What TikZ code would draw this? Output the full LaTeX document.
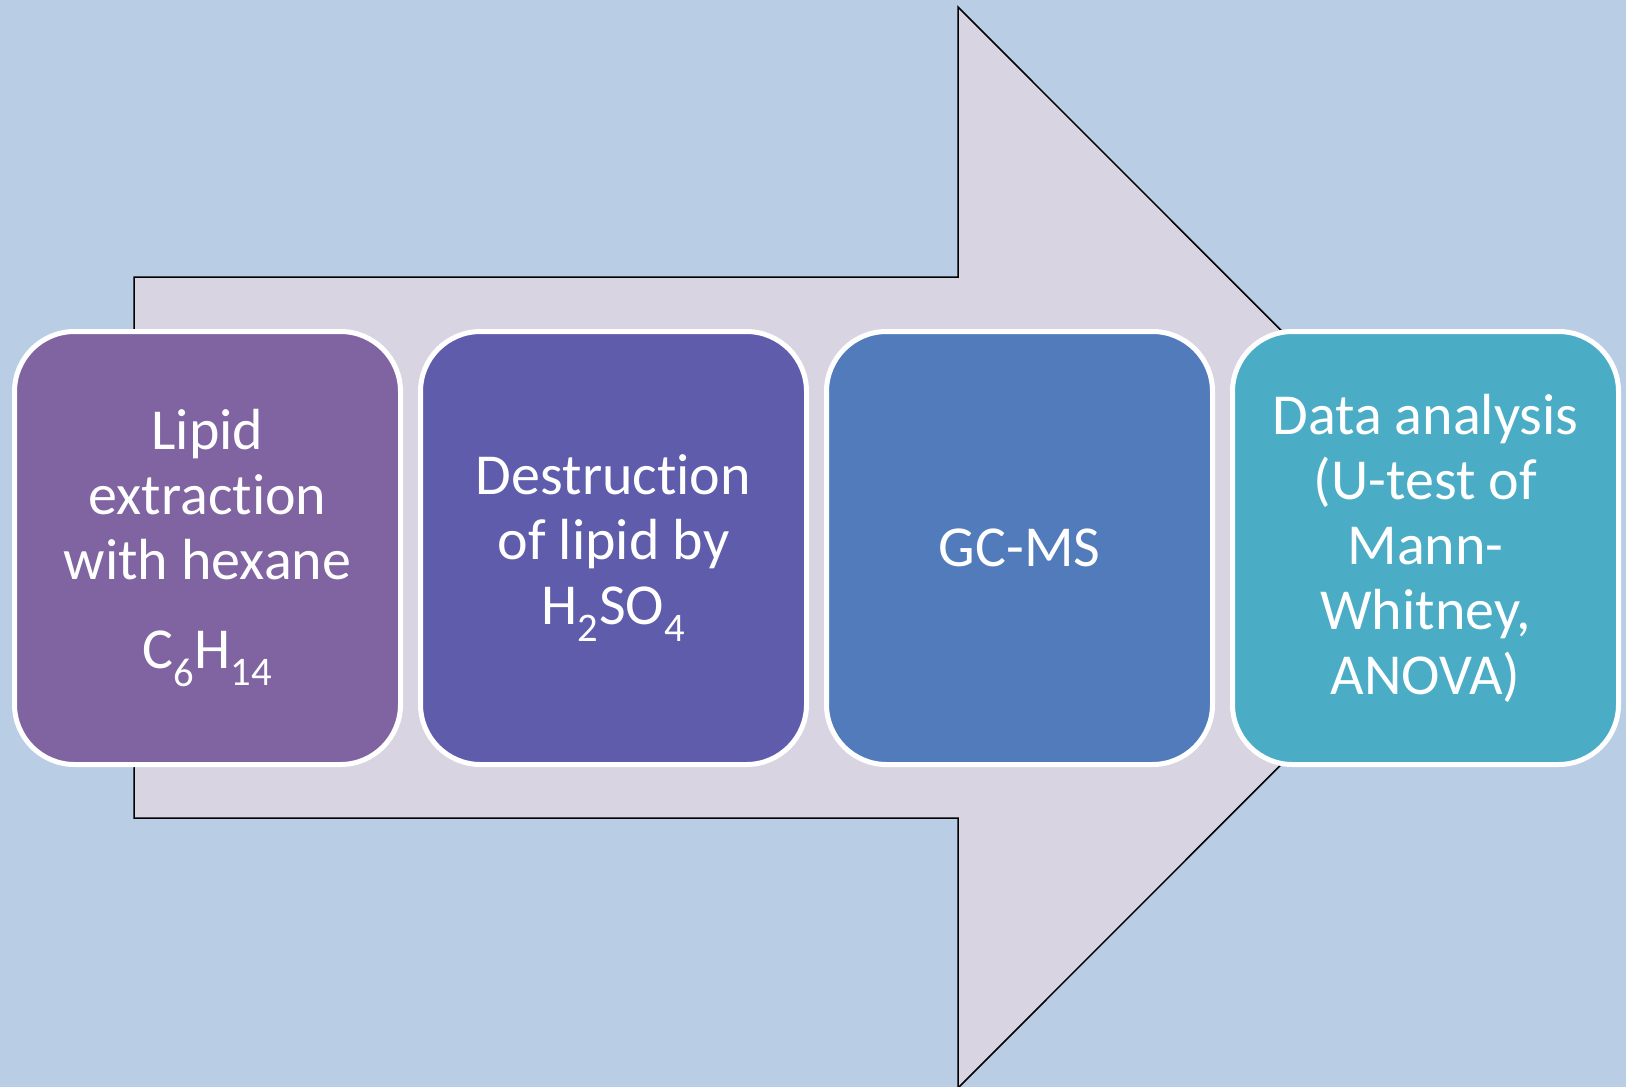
\documentclass[tikz,border=0pt]{standalone}
\usepackage{fontspec}
\setmainfont{Carlito}[RawFeature={-liga;-clig;-calt;-dlig}]
\definecolor{bgblue}{HTML}{B9CDE5}
\definecolor{arrowfill}{HTML}{D8D4E2}
\definecolor{stepA}{HTML}{8064A2}
\definecolor{stepB}{HTML}{5F5CAC}
\definecolor{stepC}{HTML}{527BBB}
\definecolor{stepD}{HTML}{4BACC6}
\begin{document}
\begin{tikzpicture}[x=1pt,y=-1pt,
		stage/.style = {draw=white, line width=5pt, rounded corners=60pt,
			minimum width=386pt, minimum height=433pt, inner sep=0pt,
			text=white, align=center, font=\fontsize{58}{65}\selectfont},
		node distance=406pt]
		\useasboundingbox[fill=bgblue] (0,0) rectangle (1626,1087);
		\fill[arrowfill, draw=black, line width=1.5pt]
			(134,277) -- (958,277) -- (958,7) -- (1498,547.5)
			-- (958,1088) -- (958,818) -- (134,818) -- cycle;
		\node[stage, fill=stepA] (s1) at (207.5,548) {Lipid\\extract\kern0pt ion\\with hexane\\[24pt]C\textsubscript{6}H\textsubscript{14}};
		\node[stage, fill=stepB] (s2) [right of=s1] {Destruct\kern0pt ion\\of lipid by\\H\textsubscript{2}SO\textsubscript{4}};
		\node[stage, fill=stepC] (s3) [right of=s2] {GC-MS};
		\node[stage, fill=stepD] (s4) [right of=s3] {Data analysis\\(U-test of\\Mann-\\Whitney,\\ANOVA)};
	\end{tikzpicture}
\end{document}
